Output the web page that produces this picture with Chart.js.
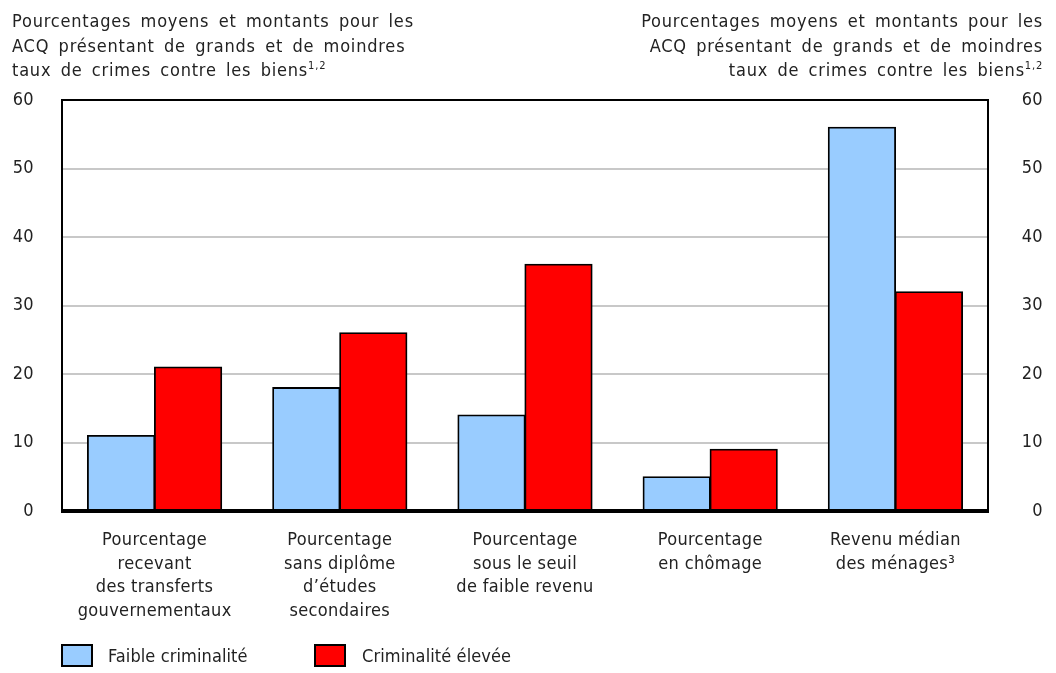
<!DOCTYPE html>
<html>
<head>
<meta charset="utf-8">
<script src="https://cdn.jsdelivr.net/npm/chart.js@4.4.0/dist/chart.umd.min.js"></script>
<style>
  html, body { margin: 0; padding: 0; background: #fff; }
</style>
</head>
<body>
<canvas id="chart" width="1056" height="673"></canvas>
<script>
const categories = [
  ['Pourcentage', 'recevant', 'des transferts', 'gouvernementaux'],
  ['Pourcentage', 'sans diplôme', 'd\u2019études', 'secondaires'],
  ['Pourcentage', 'sous le seuil', 'de faible revenu'],
  ['Pourcentage', 'en chômage'],
  ['Revenu médian', 'des ménages³']
];
const lowCrime = [11, 18, 14, 5, 56];
const highCrime = [21, 26, 36, 9, 32];
const seriesNames = ['Faible criminalité', 'Criminalité élevée'];
const seriesColors = ['#99ccff', '#ff0000'];
const yMin = 0, yMax = 60, yStep = 10;
const titleLines = [
  'Pourcentages moyens et montants pour les',
  'ACQ présentant de grands et de moindres',
  'taux de crimes contre les biens'
];
const titleSup = '1,2';

const FONT = "'Liberation Sans Narrow', 'DejaVu Sans Condensed', sans-serif";
const TICK_SPACING = '0.35px';
const TEXT = '#222';

const spacingPlugin = {
  id: 'spacing',
  beforeUpdate(chart) { chart.ctx.letterSpacing = TICK_SPACING; },
  beforeDraw(chart) { chart.ctx.letterSpacing = TICK_SPACING; }
};

const framePlugin = {
  id: 'frame',
  afterDatasetsDraw(chart) {
    const {ctx, chartArea: a} = chart;
    ctx.save();
    ctx.strokeStyle = '#000';
    ctx.lineWidth = 2;
    ctx.strokeRect(a.left, a.top, a.right - a.left, a.bottom - a.top);
    ctx.lineWidth = 4;
    ctx.beginPath();
    ctx.moveTo(a.left - 1, a.bottom);
    ctx.lineTo(a.right + 1, a.bottom);
    ctx.stroke();
    ctx.restore();
  }
};

const textPlugin = {
  id: 'texts',
  afterDraw(chart) {
    const ctx = chart.ctx;
    ctx.save();
    ctx.fillStyle = TEXT;
    ctx.textBaseline = 'alphabetic';
    ctx.textAlign = 'left';
    const base = [27, 52, 76];
    titleLines.forEach((line, i) => {
      ctx.letterSpacing = '0.8px';
      ctx.wordSpacing = '3.4px';
      ctx.font = '18px ' + FONT;
      const w = ctx.measureText(line).width;
      let sw = 0;
      const last = i === titleLines.length - 1;
      if (last) {
        ctx.font = '11px ' + FONT;
        sw = ctx.measureText(titleSup).width;
        ctx.font = '18px ' + FONT;
      }
      ctx.fillText(line, 12, base[i]);
      const rx = 1043 - w - sw;
      ctx.fillText(line, rx, base[i]);
      if (last) {
        ctx.font = '11px ' + FONT;
        ctx.fillText(titleSup, 12 + w, base[i] - 7);
        ctx.fillText(titleSup, rx + w, base[i] - 7);
      }
    });

    // legend
    const items = [{x: 62, tx: 108}, {x: 315, tx: 362}];
    ctx.letterSpacing = '0.1px';
    ctx.wordSpacing = '0px';
    ctx.font = '18px ' + FONT;
    ctx.textBaseline = 'middle';
    chart.data.datasets.forEach((ds, i) => {
      const it = items[i];
      ctx.fillStyle = ds.backgroundColor;
      ctx.fillRect(it.x, 645, 30, 21);
      ctx.strokeStyle = '#000';
      ctx.lineWidth = 2;
      ctx.strokeRect(it.x, 645, 30, 21);
      ctx.fillStyle = TEXT;
      ctx.fillText(ds.label, it.tx, 657);
    });
    ctx.restore();
  }
};

new Chart(document.getElementById('chart'), {
  type: 'bar',
  data: {
    labels: categories,
    datasets: [
      {label: seriesNames[0], data: lowCrime, backgroundColor: seriesColors[0]},
      {label: seriesNames[1], data: highCrime, backgroundColor: seriesColors[1]}
    ].map(d => Object.assign(d, {
      borderColor: '#000',
      borderWidth: 1.8,
      inflateAmount: 0.6,
      barPercentage: 1,
      categoryPercentage: 0.7235
    }))
  },
  options: {
    responsive: false,
    animation: false,
    layout: {padding: {top: 100, right: 13, bottom: 0, left: 0}},
    plugins: {legend: {display: false}, tooltip: {enabled: false}},
    scales: {
      x: {
        grid: {display: false},
        border: {display: false},
        ticks: {
          color: TEXT,
          padding: 10,
          maxRotation: 0,
          autoSkip: false,
          font: {family: FONT, size: 18, lineHeight: 1.3}
        },
        afterFit(s) { s.height = 162; }
      },
      y: {
        position: 'left',
        min: yMin, max: yMax,
        border: {display: false},
        grid: {
          color: ctx => (ctx.tick.value === yMin || ctx.tick.value === yMax) ? 'rgba(0,0,0,0)' : '#c8c8c8',
          lineWidth: 2,
          drawTicks: false
        },
        ticks: {
          stepSize: yStep,
          color: TEXT,
          padding: 28,
          font: {family: FONT, size: 18}
        },
        afterFit(s) { s.width = 62; }
      },
      y2: {
        position: 'right',
        min: yMin, max: yMax,
        border: {display: false},
        grid: {display: false, drawTicks: false},
        ticks: {
          stepSize: yStep,
          color: TEXT,
          crossAlign: 'far',
          font: {family: FONT, size: 18}
        },
        afterFit(s) { s.width = 55; }
      }
    }
  },
  plugins: [spacingPlugin, framePlugin, textPlugin]
});
</script>
</body>
</html>
